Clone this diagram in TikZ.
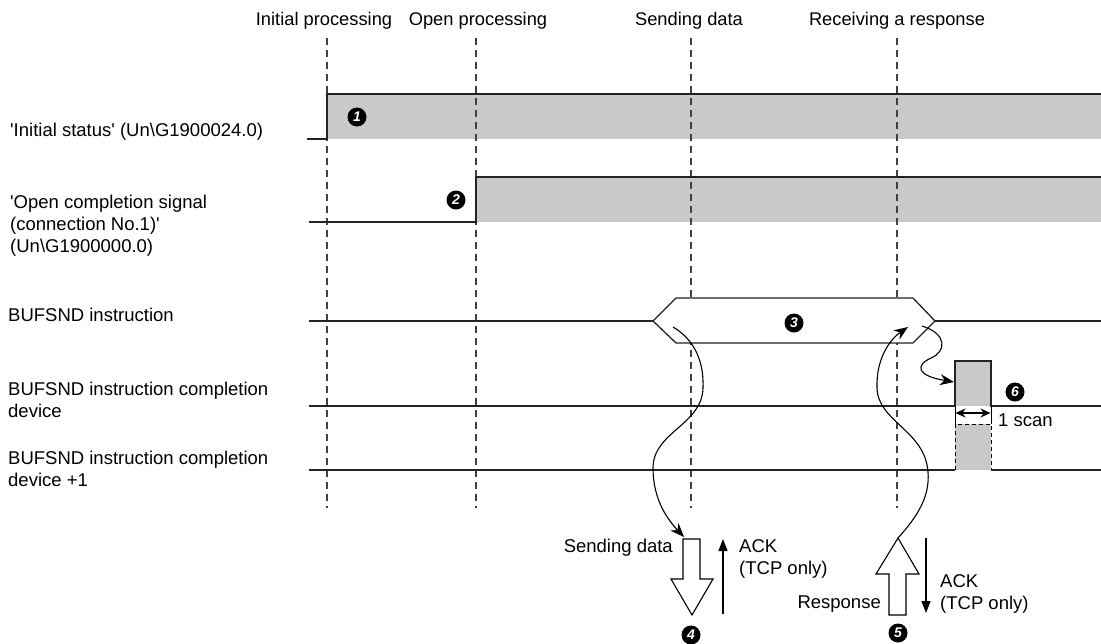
\documentclass[tikz,border=0pt]{standalone}
\usepackage{fontspec}
\setmainfont{Liberation Sans}
\usetikzlibrary{arrows.meta}
\definecolor{sigfill}{RGB}{200,201,203}
\definecolor{sigline}{RGB}{35,35,35}
\newcommand{\sq}{\textquotesingle}
\begin{document}
\begin{tikzpicture}[x=1pt,y=-1pt,
  sig/.style={draw=sigline, line width=1.3pt},
  grid/.style={draw=black!75, line width=1.1pt, dash pattern=on 7pt off 5pt},
  num/.style={circle, fill=black, text=white, inner sep=0pt, minimum size=19pt,
    font=\fontsize{14}{14}\selectfont\bfseries\itshape},
  lbl/.style={anchor=base west, inner sep=0pt, font=\fontsize{18.5}{22}\selectfont, align=left},
  lblr/.style={anchor=base east, inner sep=0pt, font=\fontsize{18.5}{22}\selectfont},
  toplbl/.style={anchor=base, inner sep=0pt, font=\fontsize{18.3}{22}\selectfont},
  flow/.style={draw=black, line width=1.1pt, -{Stealth[length=14pt,width=11pt]}},
  thin/.style={draw=black, line width=1.1pt, -{Triangle[length=12pt,width=9pt]}},
  hollow/.style={draw=black, line width=1.1pt, fill=white, line join=miter}
]
\useasboundingbox (0,0) rectangle (1101,643);

% top labels
\node[toplbl] (tInit) at (324,25) {Initial processing};
\node[toplbl] (tOpen) at (478,25) {Open processing};
\node[toplbl] (tSend) at (689,25) {Sending data};
\node[toplbl] (tRecv) at (897,25) {Receiving a response};

% left labels
\node[lbl] (lInit) at (10,136) {\sq Initial status\sq{} (Un\textbackslash G1900024.0)};
\node[lbl, anchor=north west] (lOpen) at (10,195) {\sq Open completion signal\\(connection No.1)\sq\\(Un\textbackslash G1900000.0)};
\node[lbl] (lBuf) at (8,321) {BUFSND instruction};
\node[lbl, anchor=north west] (lComp) at (8,382) {BUFSND instruction completion\\device};
\node[lbl, anchor=north west] (lComp1) at (8,451) {BUFSND instruction completion\\device +1};

% gray fills
\fill[sigfill] (327,94) rectangle (1101,139);
\fill[sigfill] (476,177) rectangle (1101,222);
\fill[sigfill] (955,361) rectangle (991,406);
\fill[sigfill] (955,424) rectangle (991,470);

% dashed time lines
\coordinate (gA1) at (327,38); \coordinate (gA2) at (327,508);
\coordinate (gB1) at (476,38); \coordinate (gB2) at (476,508);
\coordinate (gC1) at (691,38); \coordinate (gC2) at (691,508);
\coordinate (gD1) at (897,38); \coordinate (gD2) at (897,508);
\draw[grid] (gA1) -- (gA2);
\draw[grid] (gB1) -- (gB2);
\draw[grid] (gC1) -- (gC2);
\draw[grid] (gD1) -- (gD2);

% row 1
\draw[sig] (307,139) -- (327,139) -- (327,94) -- (1101,94);
% row 2
\draw[sig] (309,222) -- (476,222) -- (476,177) -- (1101,177);
% row 3 hexagon
\draw[sig] (309,321) -- (653,321);
\draw[sig, fill=white] (653,321) -- (676,298) -- (913,298) -- (935,321) -- (913,343) -- (676,343) -- cycle;
\draw[sig] (935,321) -- (1101,321);
% row 4 pulse
\draw[sig] (309,406) -- (955,406) -- (955,361) -- (991,361) -- (991,406) -- (1101,406);
% row 5
\draw[sig] (309,470) -- (955,470);
\draw[sig] (991,470) -- (1101,470);
\draw[draw=black, line width=1pt, dash pattern=on 4pt off 3pt] (955,470) -- (955,424) -- (991,424) -- (991,470);
\draw[draw=black, line width=1pt] (955,406) -- (955,424);
\draw[draw=black, line width=1pt] (991,406) -- (991,424);
\draw[draw=black, line width=1.1pt, {Stealth[length=10pt,width=9pt]}-{Stealth[length=10pt,width=9pt]}] (955.5,413) -- (990.5,413);
\node[lbl] (scan) at (998,426) {1 scan};

% numbers
\node[num] (n1) at (357,117) {1};
\node[num] (n2) at (456,200) {2};
\node[num] (n3) at (794,323) {3};
\node[num] (n4) at (691,635) {4};
\node[num] (n5) at (898,633) {5};
\node[num] (n6) at (1015,392) {6};

% hollow arrows
\draw[hollow] (683,539) -- (700,539) -- (700,579) -- (713,579) -- (692,615) -- (671,579) -- (683,579) -- cycle;
\draw[hollow] (898,538) -- (919,574) -- (906,574) -- (906,615) -- (889,615) -- (889,574) -- (876,574) -- cycle;
\coordinate (sendTop) at (691.5,539);
\coordinate (respTip) at (898,538);

% thin ACK arrows
\coordinate (ack1a) at (723,614); \coordinate (ack1b) at (723,539);
\coordinate (ack2a) at (926,538); \coordinate (ack2b) at (926,613);
\draw[thin] (ack1a) -- (ack1b);
\draw[thin] (ack2a) -- (ack2b);

% bottom labels
\node[lblr] (sd) at (673,552) {Sending data};
\node[lbl] (ack1) at (739,552) {ACK};
\node[lbl] (tcp1) at (739,574) {(TCP only)};
\node[lblr] (resp) at (881,608) {Response};
\node[lbl] (ack2) at (940,587) {ACK};
\node[lbl] (tcp2) at (940,609) {(TCP only)};

% flow curves
\coordinate (c1s) at (673,327);
\coordinate (c1e) at (684,537);
\draw[flow] (c1s) .. controls (695,340) and (704,362) .. (703,388)
  .. controls (702,425) and (653,432) .. (653,468)
  .. controls (653,500) and (668,520) .. (c1e);
\coordinate (c2e) at (908,327);
\draw[flow] (respTip) .. controls (918,516) and (930,496) .. (928,472)
  .. controls (925,430) and (878,422) .. (877,388)
  .. controls (876,356) and (892,338) .. (c2e);
\coordinate (c3s) at (922,326);
\coordinate (c3e) at (954,382);
\draw[flow] (c3s) .. controls (948,334) and (946,352) .. (931,358)
  .. controls (914,366) and (918,376) .. (c3e);
\end{tikzpicture}
\end{document}
